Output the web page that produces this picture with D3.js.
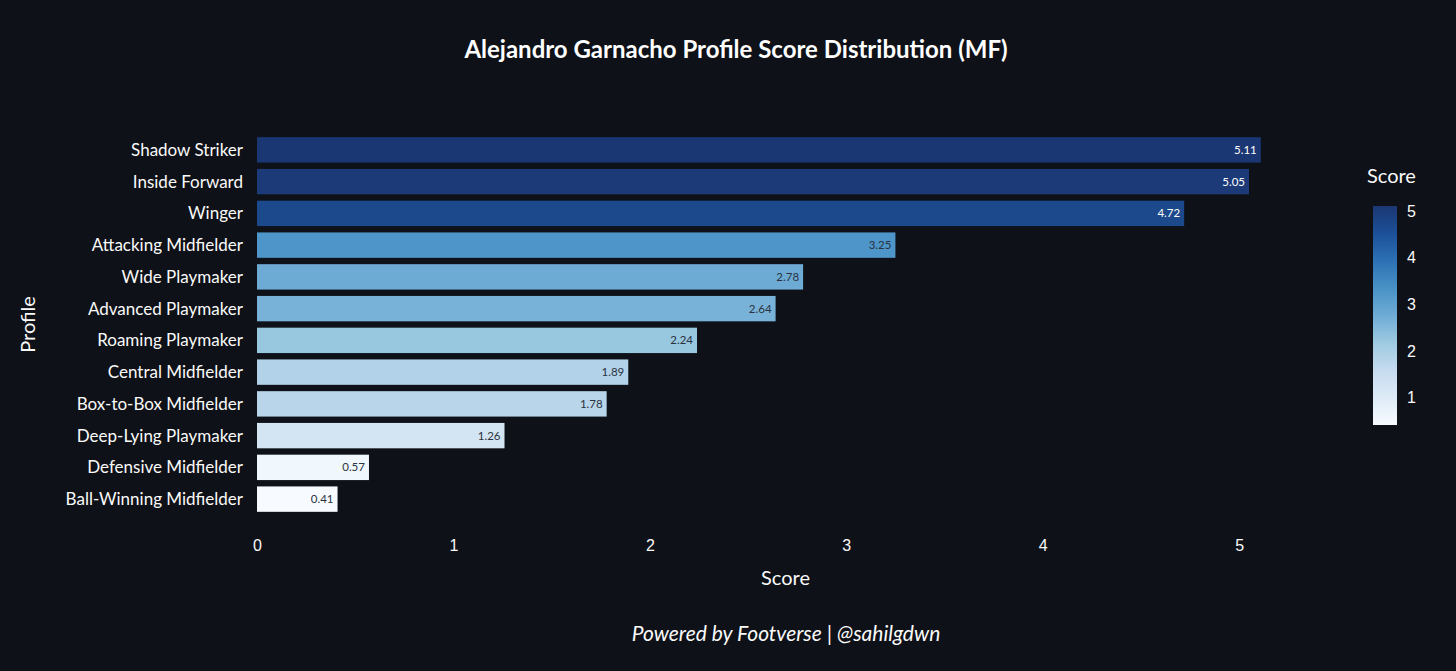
<!DOCTYPE html>
<html>
<head>
<meta charset="utf-8">
<script src="https://cdn.jsdelivr.net/npm/d3@7"></script>
<style>
  html, body { margin: 0; padding: 0; background: #0e1117; }
  svg { display: block; font-family: "Source Sans Pro", Lato, "Noto Sans", sans-serif; }
</style>
</head>
<body>
<svg id="chart"></svg>
<script>
// Data
const profiles = [
  'Shadow Striker', 'Inside Forward', 'Winger', 'Attacking Midfielder',
  'Wide Playmaker', 'Advanced Playmaker', 'Roaming Playmaker', 'Central Midfielder',
  'Box-to-Box Midfielder', 'Deep-Lying Playmaker', 'Defensive Midfielder', 'Ball-Winning Midfielder'
];
const scores = [5.11, 5.05, 4.72, 3.25, 2.78, 2.64, 2.24, 1.89, 1.78, 1.26, 0.57, 0.41];
const xTicks = [0, 1, 2, 3, 4, 5];
const colorbarTicks = [1, 2, 3, 4, 5];
// Blues colorscale, low -> high (dark end slightly softened to match the picture)
const blues = ['rgb(247,251,255)', 'rgb(222,235,247)', 'rgb(198,219,239)', 'rgb(158,202,225)',
  'rgb(110,172,214)', 'rgb(72,146,198)', 'rgb(45,113,180)', 'rgb(28,80,152)', 'rgb(27,55,115)'];

const width = 1456, height = 671;
const margin = { top: 134, right: 142, bottom: 156, left: 257 };
const innerWidth = width - margin.left - margin.right;
const innerHeight = height - margin.top - margin.bottom;
const textColor = '#fafafa';

const svg = d3.select('#chart')
  .attr('width', width)
  .attr('height', height)
  .attr('viewBox', `0 0 ${width} ${height}`);

svg.append('rect').attr('width', width).attr('height', height).attr('fill', '#0e1117');

const data = profiles.map((p, i) => ({ profile: p, score: scores[i] }));
const cmin = d3.min(scores), cmax = d3.max(scores);

const colorInterp = d3.piecewise(d3.interpolateRgb, blues);
const color = v => colorInterp((v - cmin) / (cmax - cmin));

const xScale = d3.scaleLinear()
  .domain([0, cmax * 1.053])
  .range([0, innerWidth]);

const yScale = d3.scaleBand()
  .domain(profiles)
  .range([0, innerHeight])
  .paddingInner(0.2)
  .paddingOuter(0.1);

// Right-align a text by measuring it (anchor stays 'start')
function alignRight(sel, xRight) {
  sel.each(function(d) {
    const w = this.getComputedTextLength();
    d3.select(this).attr('x', xRight(d) - w);
  });
}

// Title
svg.append('text')
  .attr('x', 736)
  .attr('y', 58)
  .attr('text-anchor', 'middle')
  .attr('font-size', '24px')
  .attr('font-weight', '700')
  .attr('fill', '#ffffff')
  .text('Alejandro Garnacho Profile Score Distribution (MF)');

// Bars
svg.selectAll('rect.bar')
  .data(data)
  .join('rect')
  .attr('class', 'bar')
  .attr('x', margin.left)
  .attr('y', d => margin.top + yScale(d.profile))
  .attr('width', d => xScale(d.score))
  .attr('height', yScale.bandwidth())
  .attr('fill', d => color(d.score));

// Value labels inside bar ends
svg.selectAll('text.val')
  .data(data)
  .join('text')
  .attr('class', 'val')
  .attr('y', d => margin.top + yScale(d.profile) + yScale.bandwidth() / 2 + 4)
  .attr('font-size', '11.5px')
  .attr('fill', d => d3.lab(color(d.score)).l > 55 ? '#2b3340' : '#ffffff')
  .text(d => d.score.toFixed(2))
  .call(alignRight, d => margin.left + xScale(d.score) - 4);

// Y axis labels
svg.selectAll('text.ylab')
  .data(profiles)
  .join('text')
  .attr('class', 'ylab')
  .attr('y', d => margin.top + yScale(d) + yScale.bandwidth() / 2 + 6)
  .attr('font-size', '17px')
  .attr('fill', textColor)
  .text(d => d)
  .call(alignRight, () => margin.left - 14);

// X axis
const xAxis = svg.append('g')
  .attr('transform', `translate(${margin.left}, ${margin.top + innerHeight})`)
  .call(d3.axisBottom(xScale).tickValues(xTicks).tickFormat(d3.format('d')).tickSize(0).tickPadding(25));
xAxis.select('.domain').remove();
xAxis.selectAll('text')
  .attr('font-size', '16px')
  .attr('font-family', null)
  .attr('fill', textColor);

// Axis titles
svg.append('text')
  .attr('x', margin.left + innerWidth / 2)
  .attr('y', 585)
  .attr('text-anchor', 'middle')
  .attr('font-size', '20px')
  .attr('fill', textColor)
  .text('Score');

svg.append('text')
  .attr('transform', `translate(35, ${margin.top + innerHeight / 2}) rotate(-90)`)
  .attr('text-anchor', 'middle')
  .attr('font-size', '20px')
  .attr('fill', textColor)
  .text('Profile');

// Colorbar
const cb = { x: 1373, w: 24, top: 206, bottom: 425 };
const cbScale = d3.scaleLinear().domain([cmin, cmax]).range([cb.bottom, cb.top]);

const grad = svg.append('defs').append('linearGradient')
  .attr('id', 'cbgrad')
  .attr('x1', 0).attr('y1', 1).attr('x2', 0).attr('y2', 0);
blues.forEach((c, i) => {
  grad.append('stop').attr('offset', i / (blues.length - 1)).attr('stop-color', c);
});

svg.append('rect')
  .attr('x', cb.x)
  .attr('y', cb.top)
  .attr('width', cb.w)
  .attr('height', cb.bottom - cb.top)
  .attr('fill', 'url(#cbgrad)');

const cbAxis = svg.append('g')
  .attr('transform', `translate(${cb.x + cb.w}, 0)`)
  .call(d3.axisRight(cbScale).tickValues(colorbarTicks).tickFormat(d3.format('d')).tickSize(0).tickPadding(10));
cbAxis.select('.domain').remove();
cbAxis.selectAll('text')
  .attr('font-size', '16px')
  .attr('font-family', null)
  .attr('fill', textColor);

svg.append('text')
  .attr('x', 1367)
  .attr('y', 183)
  .attr('font-size', '20px')
  .attr('fill', textColor)
  .text('Score');

// Footer
svg.append('text')
  .attr('x', 786)
  .attr('y', 641)
  .attr('text-anchor', 'middle')
  .attr('font-size', '21px')
  .attr('font-style', 'italic')
  .attr('fill', textColor)
  .text('Powered by Footverse | @sahilgdwn');
</script>
</body>
</html>
